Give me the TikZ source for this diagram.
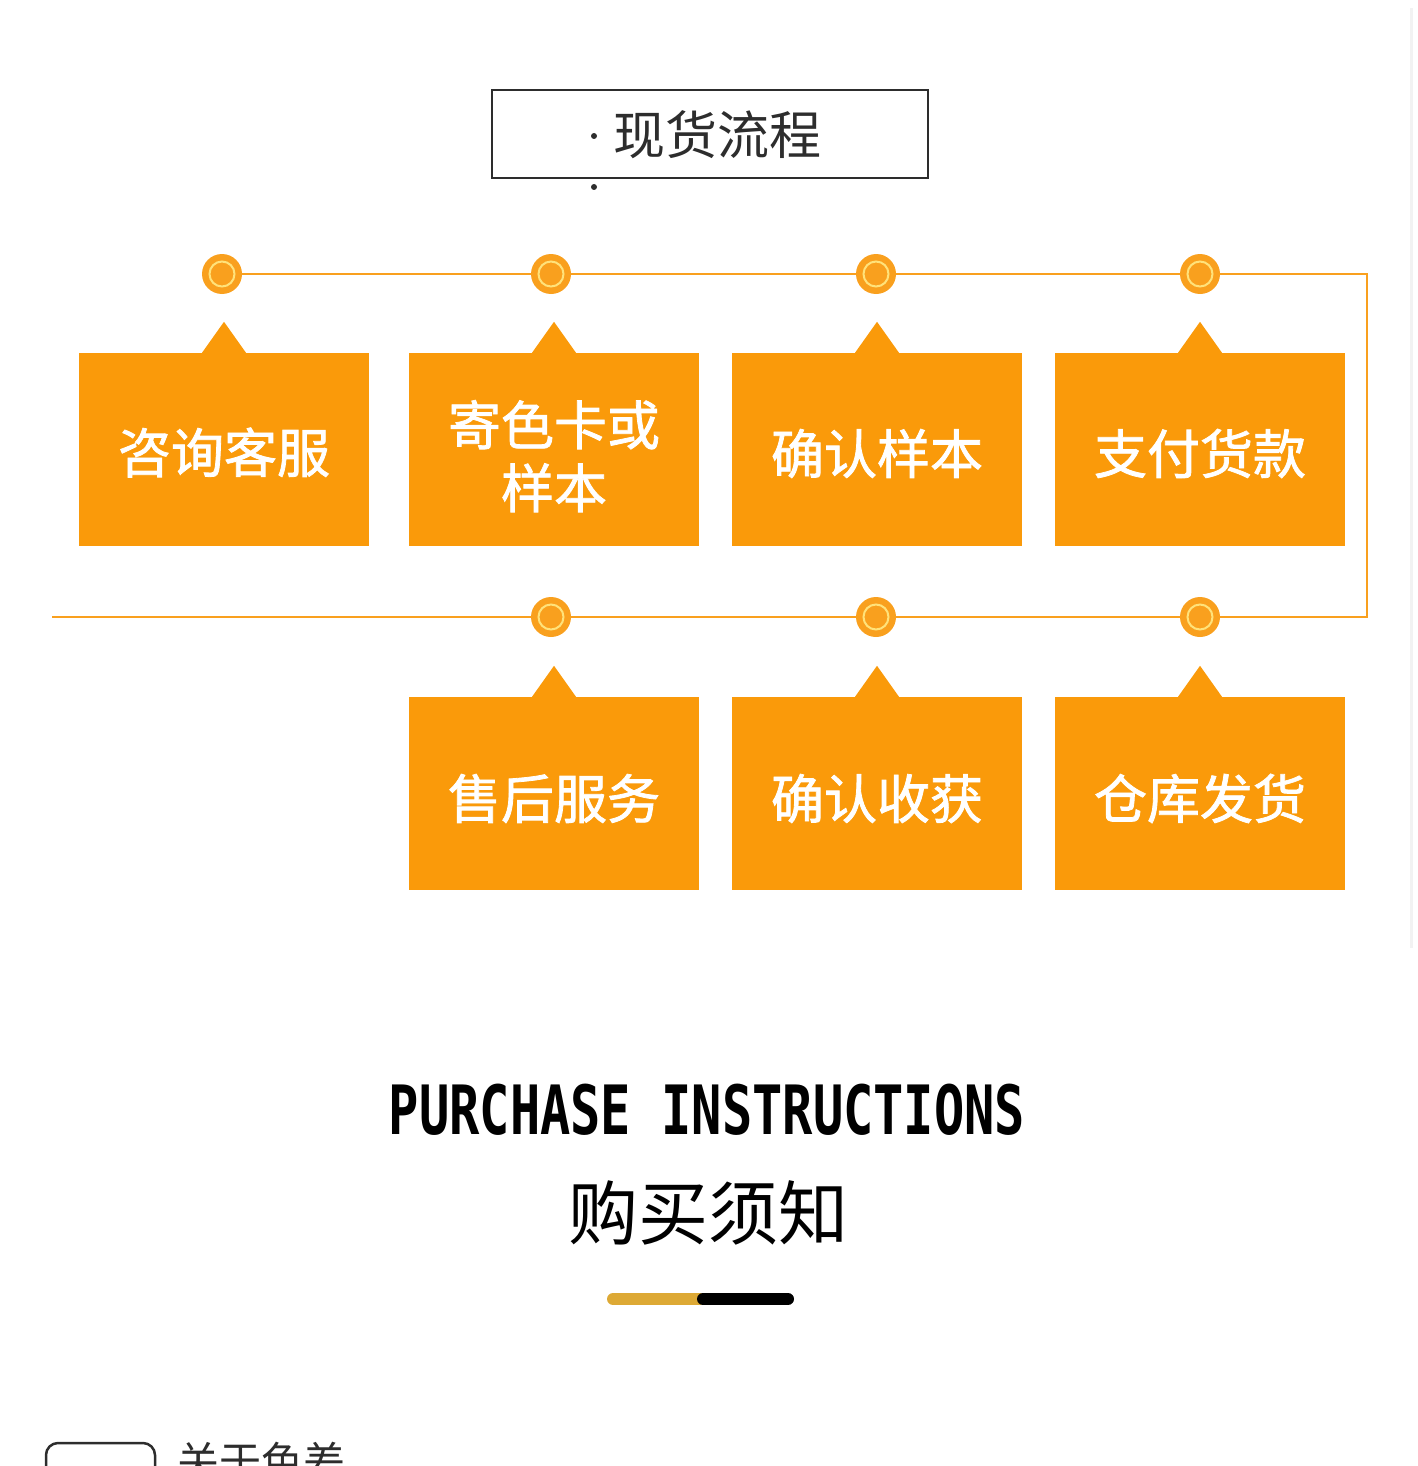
\documentclass[tikz,border=0pt]{standalone}
\usepackage{fontspec}
\usepackage{graphicx}
\newfontfamily\cjk{Noto Sans CJK SC}
\newfontfamily\cjkm[FakeBold=1.5]{Noto Sans CJK SC}
\newfontfamily\monob{DejaVu Sans Mono Bold}
\usetikzlibrary{backgrounds}
\definecolor{boxorange}{RGB}{250,154,10}
\definecolor{lineorange}{RGB}{249,160,30}
\definecolor{ringyellow}{RGB}{255,226,122}
\definecolor{goldbar}{RGB}{221,169,53}
\definecolor{darkgray}{RGB}{45,45,45}
\tikzset{
  stepbox/.style={fill=boxorange, minimum width=290pt, minimum height=193pt, inner sep=0pt,
    text=white, align=center, font=\cjkm\fontsize{53}{65}\selectfont},
  dotnode/.style={circle, fill=lineorange, minimum size=40pt, inner sep=0pt},
  ring/.style={draw=ringyellow, line width=2pt},
  flow/.style={draw=lineorange, line width=2pt},
}
\newcommand{\boxtip}[1]{\fill[boxorange] ([xshift=-22pt]#1.north) -- ([yshift=31pt]#1.north) -- ([xshift=22pt]#1.north) -- cycle;}
\newcommand{\lowered}[2]{\raisebox{-#1}[\height][\depth]{#2}}
\begin{document}
\begin{tikzpicture}[x=1pt,y=-1pt]
\useasboundingbox (0,0) rectangle (1417,1466);
\clip (0,0) rectangle (1417,1466);
\draw[black!5, line width=3pt] (1411,8) -- (1411,948);

% title
\node[draw=darkgray, line width=1.5pt, minimum width=436pt, minimum height=88pt, inner sep=0pt] (title) at (710,134) {};
\node[text=darkgray, font=\cjk\fontsize{52}{60}\selectfont, inner sep=0pt] (titletext) at (717,135) {现货流程};
\node[circle, fill=darkgray, minimum size=6pt, inner sep=0pt] (dotA) at (594,136) {};
\node[circle, fill=darkgray, minimum size=6pt, inner sep=0pt] (dotB) at (594,187) {};

% circles
\foreach \n/\x/\y in {c1/222/274, c2/551/274, c3/876/274, c4/1200/274, d1/551/617, d2/876/617, d3/1200/617}{
  \node[dotnode] (\n) at (\x,\y) {};
  \draw[ring] (\x,\y) circle (12.5pt);
}
\coordinate (cr1) at (1367,274);
\coordinate (cr2) at (1367,617);
\coordinate (endL) at (52,617);
\begin{pgfonlayer}{background}
\draw[flow] (c1) -- (c2) -- (c3) -- (c4) -- (cr1) -- (cr2) -- (d3) -- (d2) -- (d1) -- (endL);
\end{pgfonlayer}

% boxes
\node[stepbox] (b1) at (224,449.5) {\lowered{3pt}{咨询客服}};
\node[stepbox] (b2) at (554,449.5) {\lowered{14pt}{\begin{tabular}{@{}c@{}}寄色卡或\\[-2pt]样本\end{tabular}}};
\node[stepbox] (b3) at (877,449.5) {\lowered{4pt}{确认样本}};
\node[stepbox] (b4) at (1200,449.5) {\lowered{4pt}{支付货款}};
\node[stepbox] (b5) at (554,793.5) {\lowered{5pt}{售后服务}};
\node[stepbox] (b6) at (877,793.5) {\lowered{5pt}{确认收获}};
\node[stepbox] (b7) at (1200,793.5) {\lowered{5pt}{仓库发货}};
\foreach \b in {b1,b2,b3,b4,b5,b6,b7}{\boxtip{\b}}

% purchase instructions
\node[inner sep=0pt] (pi) at (707,1110) {\scalebox{0.74}[1]{\monob\fontsize{68}{70}\selectfont PURCHASE INSTRUCTIONS}};
\node[inner sep=0pt, font=\cjk\fontsize{70}{80}\selectfont] (gmxz) at (708,1213) {购买须知};
\coordinate (barA) at (613,1299);
\coordinate (barB) at (700,1299);
\coordinate (barC) at (703,1299);
\coordinate (barD) at (788,1299);
\draw[goldbar, line width=12pt, line cap=round] (barA) -- (barB);
\draw[black, line width=12pt, line cap=round] (barC) -- (barD);

% bottom
\draw[darkgray, line width=2.5pt, rounded corners=12pt] (46,1520) -- (46,1443) -- (155,1443) -- (155,1520);
\node[anchor=base west, inner sep=0pt, text=darkgray, font=\cjk\fontsize{42}{50}\selectfont] (gysc) at (177,1477) {关于色差};
\end{tikzpicture}
\end{document}
